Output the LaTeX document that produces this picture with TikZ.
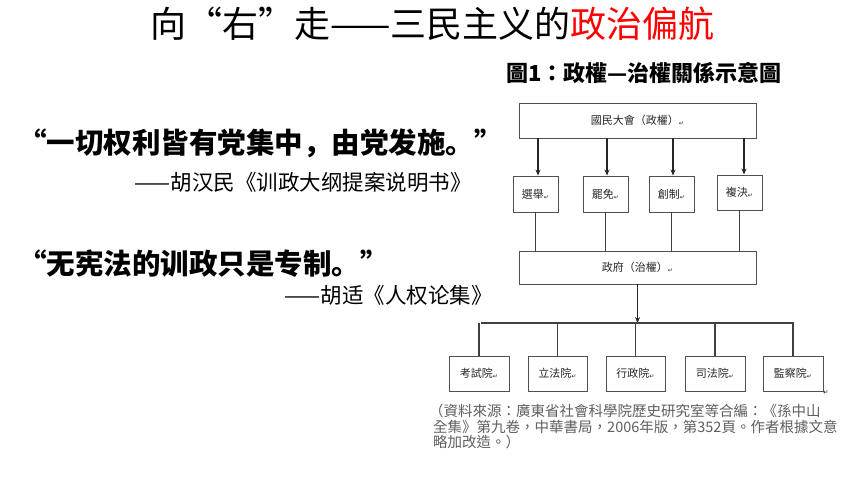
\documentclass[tikz,border=0pt]{standalone}
\usepackage{fontspec}
\usetikzlibrary{arrows.meta}
\newfontfamily\cjksc{Noto Sans CJK SC}
\newfontfamily\cjktc{Noto Sans CJK TC}
\newfontfamily\symfont{DejaVu Sans}
\definecolor{boxline}{RGB}{80,80,80}
\definecolor{srcgrey}{RGB}{95,95,95}
\definecolor{titlered}{RGB}{255,0,0}
\newcommand{\pmark}{{\symfont\fontsize{6}{6}\selectfont\raisebox{-1pt}{↵}}}
\tikzset{
  box/.style={draw=boxline, line width=0.9pt, inner sep=0pt, font=\cjktc\fontsize{11}{11}\selectfont, text=black!85},
  arr/.style={draw=black!85, line width=1.6pt, -{Stealth[length=6pt,width=5pt]}},
  conn/.style={draw=black!75, line width=1.1pt},
}
\begin{document}
\begin{tikzpicture}[x=1pt,y=-1pt]
\useasboundingbox (0,0) rectangle (860,484);
\fill[white] (0,0) rectangle (860,484);
% main title
\node[font=\cjksc\fontsize{36}{36}\selectfont, inner sep=0pt] (title) at (432.5,24)
  {向“右”走——三民主义的\textcolor{titlered}{政治偏航}};
% quotes
\node[font=\cjksc\bfseries\fontsize{28.5}{28.5}\selectfont, anchor=west, inner sep=0pt] (q1) at (18,143)
  {“一切权利皆有党集中，由党发施。”};
\node[font=\cjksc\fontsize{21.5}{21.5}\selectfont, anchor=east, inner sep=0pt] (a1) at (472,182)
  {——胡汉民《训政大纲提案说明书》};
\node[font=\cjksc\bfseries\fontsize{28.5}{28.5}\selectfont, anchor=west, inner sep=0pt] (q2) at (18,264)
  {“无宪法的训政只是专制。”};
\node[font=\cjksc\fontsize{21.5}{21.5}\selectfont, anchor=east, inner sep=0pt] (a2) at (493,295)
  {——胡适《人权论集》};
% diagram title
\node[font=\cjktc\bfseries\fontsize{22}{22}\selectfont, anchor=west, inner sep=0pt] (dtitle) at (506,73)
  {圖1：政權—治權關係示意圖};
% boxes
\node[box, minimum width=237pt, minimum height=35pt] (top) at (637.5,120.5) {國民大會（政權）\pmark};
\node[box, minimum width=45pt, minimum height=36pt] (b1) at (535.5,194) {選舉\pmark};
\node[box, minimum width=45pt, minimum height=36pt] (b2) at (605.5,194) {罷免\pmark};
\node[box, minimum width=45pt, minimum height=36pt] (b3) at (671.5,194) {創制\pmark};
\node[box, minimum width=45pt, minimum height=35pt] (b4) at (739.5,192.5) {複決\pmark};
\node[box, minimum width=237pt, minimum height=33pt] (gov) at (637.5,267.5) {政府（治權）\pmark};
\node[box, minimum width=60pt, minimum height=35pt] (c1) at (479,373.5) {考試院\pmark};
\node[box, minimum width=59pt, minimum height=35pt] (c2) at (557.5,373.5) {立法院\pmark};
\node[box, minimum width=59pt, minimum height=35pt] (c3) at (635.5,373.5) {行政院\pmark};
\node[box, minimum width=60pt, minimum height=35pt] (c4) at (715,373.5) {司法院\pmark};
\node[box, minimum width=60pt, minimum height=35pt] (c5) at (793,373.5) {監察院\pmark};
\node[inner sep=0pt] (stray) at (826,393) {\pmark};
% arrows from top box
\foreach \b/\xx in {b1/538,b2/607,b3/673,b4/744}{
  \draw[arr] (\b.north -| \xx,0) ++(0,0) coordinate (tmp)
    (top.south -| tmp) -- (tmp);
}
% connectors to government
\foreach \b in {b1,b2,b3,b4}{
  \draw[conn] (\b.south) -- (\b.south |- gov.north);
}
% arrow to bar
\coordinate (barL) at (481,323);
\coordinate (barR) at (794,323);
\coordinate (barM) at (637.5,323);
\draw[arr] (gov.south) -- (barM);
\draw[conn, line width=1.3pt] (barL) -- (barR);
\foreach \c in {c1,c2,c3,c4,c5}{
  \draw[conn] (\c.north |- barL) -- (\c.north);
}
% source note
\begin{scope}[every node/.style={font=\cjktc\fontsize{14.5}{14.5}\selectfont, text=srcgrey, anchor=west, inner sep=0pt}]
\node (s1) at (429,411) {（資料來源：廣東省社會科學院歷史研究室等合編：《孫中山};
\node (s2) at (433,427) {全集》第九卷，中華書局，2006年版，第352頁。作者根據文意};
\node (s3) at (433,442) {略加改造。）};
\end{scope}
\end{tikzpicture}
\end{document}
